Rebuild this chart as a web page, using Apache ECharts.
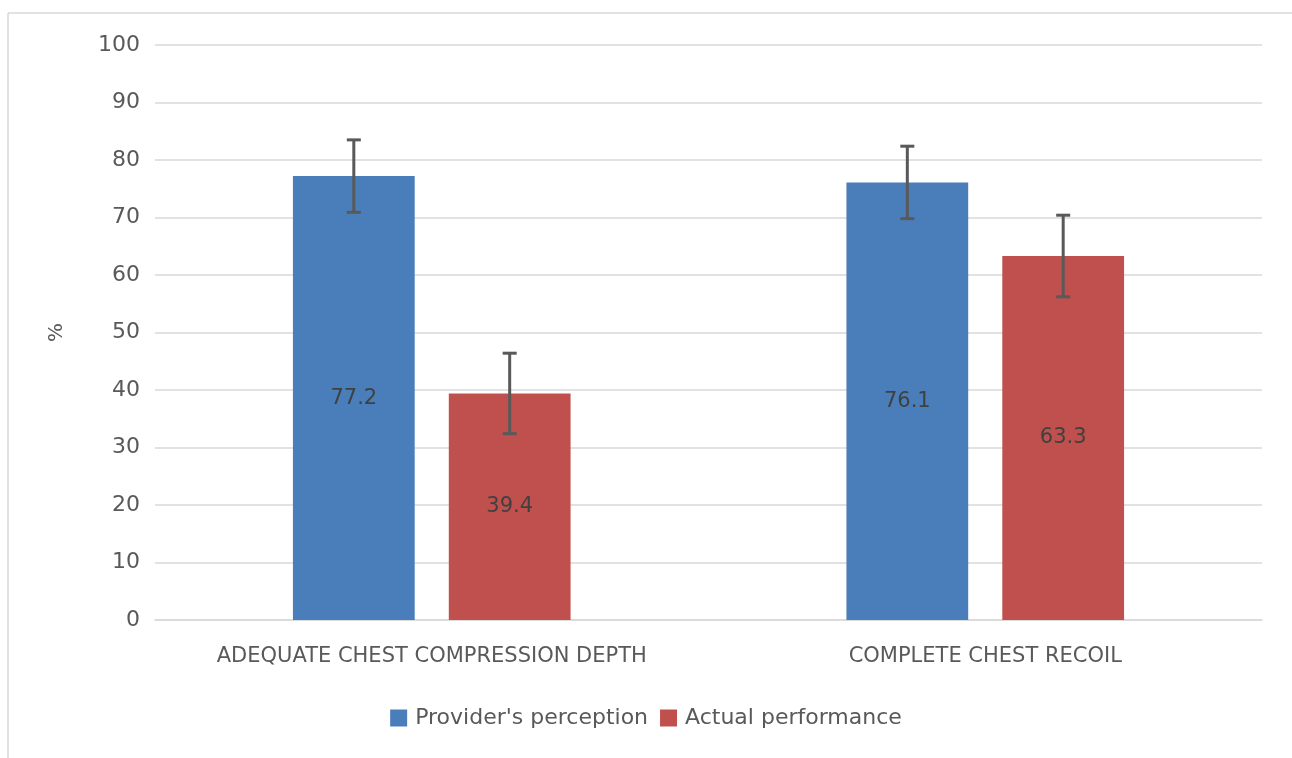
<!DOCTYPE html>
<html><head><meta charset="utf-8">
<script src="https://cdn.jsdelivr.net/npm/echarts@6/dist/echarts.min.js"></script>
<style>html,body{margin:0;padding:0;background:#fff}#c{width:1292px;height:758px}</style>
</head><body><div id="c"></div>
<script>
const categories = ['ADEQUATE CHEST COMPRESSION DEPTH', 'COMPLETE CHEST RECOIL'];
const perception = [77.2, 76.1];
const perceptionErr = [6.3, 6.3];
const actual = [39.4, 63.3];
const actualErr = [7.0, 7.1];
const yTicks = [0, 10, 20, 30, 40, 50, 60, 70, 80, 90, 100];

const BAR_W = 0.22, GAP = 0.28;
function errSeries(vals, errs, idx) {
  return {
    type: 'custom', silent: true, z: 10,
    data: vals.map((v, i) => [i, v, errs[i]]),
    renderItem: function (params, api) {
      const c = api.value(0), v = api.value(1), e = api.value(2);
      const band = api.size([1, 0])[0];
      const bw = band * BAR_W, gap = bw * GAP;
      const center = api.coord([c, v])[0];
      const x = center + (idx === 0 ? -(gap / 2 + bw / 2) : (gap / 2 + bw / 2));
      const yt = api.coord([c, v + e])[1], yb = api.coord([c, v - e])[1];
      const st = { stroke: '#595959', lineWidth: 3 };
      const cap = 7;
      return { type: 'group', children: [
        { type: 'line', shape: { x1: x, y1: yt, x2: x, y2: yb }, style: st },
        { type: 'line', shape: { x1: x - cap, y1: yt, x2: x + cap, y2: yt }, style: st },
        { type: 'line', shape: { x1: x - cap, y1: yb, x2: x + cap, y2: yb }, style: st }
      ]};
    }
  };
}

const chart = echarts.init(document.getElementById('c'));
const font = '"DejaVu Sans", "Noto Sans", sans-serif';
chart.setOption({
  animation: false,
  textStyle: { fontFamily: font },
  graphic: [
    { type: 'line', shape: { x1: 8, y1: 13, x2: 1292, y2: 13 }, style: { stroke: '#d9d9d9', lineWidth: 1.5 } },
    { type: 'line', shape: { x1: 8, y1: 13, x2: 8, y2: 758 }, style: { stroke: '#d9d9d9', lineWidth: 1.5 } }
  ],
  grid: { left: 155, right: 30, top: 45, bottom: 138 },
  legend: {
    bottom: 24, left: 'center', itemWidth: 17, itemHeight: 17, itemGap: 12,
    icon: 'rect',
    textStyle: { fontSize: 22, color: '#595959', fontFamily: font, padding: [0, 0, 0, 3] },
    data: ["Provider's perception", 'Actual performance']
  },
  xAxis: {
    type: 'category', data: categories,
    axisTick: { show: false },
    axisLine: { lineStyle: { color: '#d9d9d9', width: 1.5 } },
    axisLabel: { interval: 0, hideOverlap: false, fontSize: 21, color: '#595959', margin: 26, fontFamily: font }
  },
  yAxis: {
    type: 'value', min: 0, max: 100, interval: 10,
    name: '%', nameLocation: 'middle', nameRotate: 90, nameGap: 88,
    nameTextStyle: { fontSize: 20, color: '#595959' },
    axisLine: { show: false }, axisTick: { show: false },
    axisLabel: { fontSize: 22, color: '#595959', margin: 15,
      formatter: v => yTicks.indexOf(v) >= 0 ? String(v) : '' },
    splitLine: { lineStyle: { color: '#d9d9d9', width: 1.5 } }
  },
  series: [
    { name: "Provider's perception", type: 'bar', data: perception,
      barWidth: (BAR_W * 100) + '%', barGap: (GAP * 100) + '%',
      itemStyle: { color: '#4a7ebb' },
      label: { show: true, position: 'inside', fontSize: 21, color: '#404040', fontFamily: font } },
    { name: 'Actual performance', type: 'bar', data: actual,
      barWidth: (BAR_W * 100) + '%', barGap: (GAP * 100) + '%',
      itemStyle: { color: '#c0504d' },
      label: { show: true, position: 'inside', fontSize: 21, color: '#404040', fontFamily: font } },
    errSeries(perception, perceptionErr, 0),
    errSeries(actual, actualErr, 1)
  ]
});
</script></body></html>
